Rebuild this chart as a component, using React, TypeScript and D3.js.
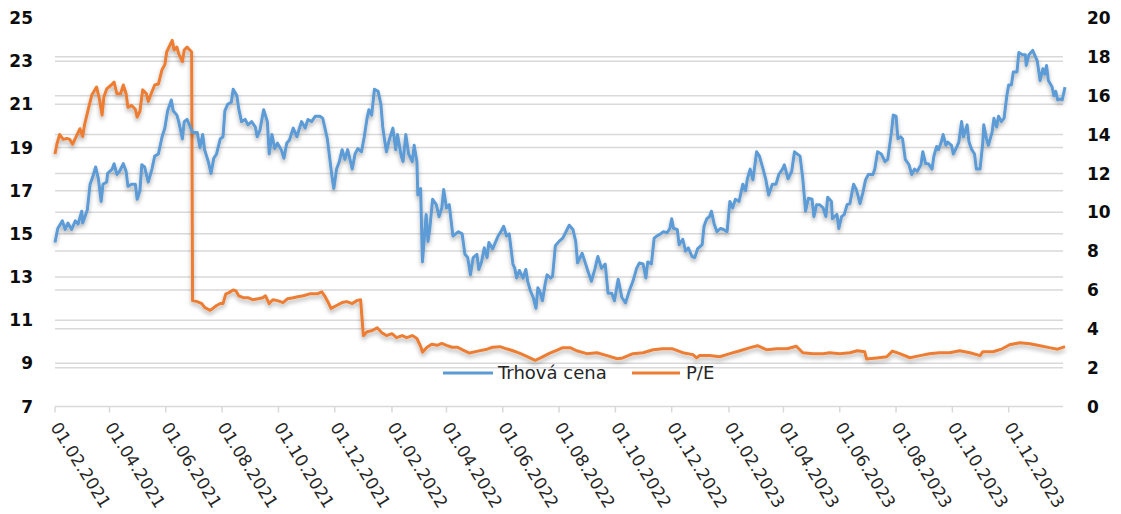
import React from "react";
import * as d3 from "d3";

// days since 01.02.2021, value
const startDate = new Date(2021, 1, 1);

const priceData: [number, number][] = [
  [0,14.6],[3,15.25],[8,15.6],[11,15.2],[14,15.5],[18,15.2],[22,15.6],[25,15.45],[29,16.05],[30,15.5],
  [35,16.1],[38,17.3],[41,17.65],[44,18.1],[47,17.55],[50,16.5],[52,17.3],[56,17.4],[57,17.8],[62,18.0],
  [64,18.25],[67,17.75],[70,17.9],[74,18.25],[77,17.9],[79,17.2],[83,17.3],[87,17.3],[89,16.6],[92,17.0],
  [94,18.2],[97,18.1],[101,17.4],[105,18.0],[108,18.6],[112,18.7],[116,19.5],[119,19.9],[122,20.7],[126,21.2],
  [128,20.7],[132,20.5],[134,20.2],[138,19.4],[140,20.2],[143,20.3],[145,20.1],[149,19.7],[154,19.7],[157,19.0],
  [160,19.6],[162,18.9],[166,18.35],[169,17.8],[172,18.5],[175,18.7],[179,19.4],[182,19.5],[184,20.7],[187,21.0],
  [191,21.1],[193,21.7],[197,21.4],[199,20.8],[202,20.2],[206,20.3],[209,20.05],[213,20.2],[217,19.95],[219,19.5],
  [222,19.8],[226,20.75],[230,20.2],[232,18.7],[235,19.6],[238,18.95],[241,19.2],[245,18.9],[248,18.5],[251,19.2],
  [254,19.35],[258,19.9],[262,19.5],[267,20.2],[271,19.9],[274,20.3],[278,20.2],[282,20.45],[287,20.45],[290,20.35],
  [295,19.4],[297,18.7],[300,17.65],[302,17.1],[305,18.0],[308,18.35],[311,18.9],[314,18.45],[317,18.9],[322,18.0],
  [325,18.7],[328,18.95],[332,18.8],[335,19.5],[338,20.35],[340,20.75],[343,20.5],[346,21.7],[350,21.6],[353,21.0],
  [355,19.95],[357,19.35],[359,18.8],[362,19.35],[366,19.9],[369,18.9],[371,19.6],[375,18.6],[377,18.35],[380,19.6],
  [383,18.7],[387,18.35],[389,19.1],[392,18.35],[393,16.8],[396,17.1],[398,13.7],[402,15.9],[404,14.65],[406,15.25],
  [409,16.6],[413,16.35],[416,15.8],[419,16.2],[421,17.05],[424,16.2],[427,16.35],[431,14.9],[434,15.0],[437,15.1],
  [441,15.0],[444,14.05],[447,13.9],[450,13.1],[453,13.9],[457,14.05],[459,13.35],[462,13.7],[465,14.35],[468,13.9],
  [470,14.6],[474,14.3],[476,14.5],[480,14.9],[483,15.1],[486,15.35],[489,14.9],[492,15.0],[496,13.6],[498,13.4],
  [500,12.95],[503,13.3],[507,12.95],[510,13.35],[512,12.8],[515,12.35],[518,12.05],[521,11.55],[523,12.5],[525,12.35],
  [528,11.9],[531,12.7],[533,13.1],[537,12.95],[539,13.05],[542,14.45],[546,14.65],[550,14.8],[553,15.05],[557,15.4],
  [561,15.2],[564,14.65],[566,13.65],[571,14.1],[574,13.7],[577,13.3],[581,12.8],[585,13.4],[588,13.95],[592,13.4],
  [596,13.6],[599,12.25],[603,12.25],[606,11.9],[610,12.9],[614,12.05],[618,11.8],[622,12.35],[626,12.8],[630,13.4],
  [633,13.65],[637,13.6],[640,12.95],[642,13.7],[646,13.6],[649,14.8],[652,14.9],[656,15.0],[659,15.1],[663,15.05],
  [666,15.25],[668,15.7],[670,15.25],[674,15.2],[676,14.5],[680,14.75],[683,14.2],[686,14.35],[690,13.95],[693,13.9],
  [696,14.3],[701,14.5],[703,15.35],[706,15.7],[709,15.8],[711,16.05],[714,15.45],[717,15.1],[721,15.25],[724,15.2],
  [728,15.1],[731,16.5],[734,16.2],[737,16.6],[741,16.5],[745,17.3],[748,17.0],[750,17.55],[753,18.0],[756,17.5],
  [760,18.8],[763,18.6],[767,18.0],[770,17.5],[773,16.8],[777,17.3],[781,17.3],[784,17.75],[788,18.0],[790,18.2],
  [794,17.55],[798,17.9],[801,18.8],[807,18.6],[810,17.55],[813,16.05],[816,16.65],[820,16.6],[822,15.8],[825,16.35],
  [828,16.35],[832,16.2],[835,15.8],[837,16.7],[841,16.5],[842,15.7],[847,15.9],[849,15.25],[852,15.8],[855,15.9],
  [858,16.35],[861,16.4],[865,17.3],[868,17.05],[872,16.4],[875,16.9],[878,17.5],[881,17.75],[886,17.75],[888,18.0],
  [891,18.8],[895,18.7],[899,18.35],[902,18.45],[906,19.7],[908,20.5],[911,20.45],[913,19.4],[916,19.5],[918,19.4],
  [921,18.45],[925,18.2],[928,17.75],[931,18.0],[934,17.9],[938,18.2],[940,18.8],[943,18.25],[946,18.25],[950,18.0],
  [952,18.6],[955,19.05],[957,18.9],[960,19.25],[962,19.6],[965,19.1],[967,19.25],[971,19.1],[973,18.7],[977,19.05],
  [979,19.25],[982,20.2],[984,19.5],[988,20.05],[990,19.25],[993,18.9],[996,18.7],[998,18.0],[1002,18.0],[1005,19.25],
  [1006,20.05],[1009,19.4],[1011,19.1],[1015,19.7],[1017,20.35],[1020,19.95],[1022,20.45],[1025,20.2],[1028,20.35],[1031,21.4],
  [1033,21.9],[1036,21.9],[1038,22.5],[1042,22.5],[1044,23.4],[1048,23.3],[1051,23.3],[1052,22.8],[1055,23.3],[1059,23.5],
  [1062,23.2],[1064,23.0],[1067,22.1],[1070,22.65],[1072,22.4],[1074,22.8],[1076,22.1],[1080,21.8],[1082,21.4],[1084,21.6],
  [1086,21.2],[1089,21.25],[1091,21.2],[1094,21.8],
];

const peData: [number, number][] = [
  [0,13.0],[2,13.5],[5,14.0],[9,13.75],[13,13.8],[16,13.75],[19,13.5],[24,14.0],[27,14.3],[30,13.9],
  [32,14.5],[36,15.3],[40,16.05],[42,16.2],[45,16.45],[48,15.85],[51,15.0],[53,15.95],[56,16.35],[61,16.55],
  [64,16.7],[67,16.1],[71,16.1],[74,16.55],[77,16.1],[79,15.4],[83,15.5],[87,15.3],[89,14.9],[92,15.2],
  [95,16.3],[99,16.1],[101,15.7],[105,16.2],[108,16.55],[112,16.6],[116,17.35],[119,17.6],[121,18.25],[125,18.65],
  [127,18.85],[129,18.35],[132,18.5],[134,18.15],[138,17.75],[140,18.35],[143,18.5],[145,18.4],[148,18.25],[149,5.45],
  [154,5.4],[159,5.3],[162,5.1],[168,4.95],[171,5.05],[175,5.2],[179,5.3],[182,5.3],[185,5.8],[188,5.85],
  [193,6.0],[196,5.95],[199,5.7],[204,5.6],[209,5.6],[214,5.5],[220,5.55],[225,5.6],[228,5.7],[232,5.3],
  [236,5.5],[241,5.45],[247,5.35],[252,5.55],[258,5.6],[263,5.65],[269,5.7],[276,5.8],[284,5.8],[289,5.9],
  [292,5.7],[296,5.35],[299,5.05],[305,5.2],[311,5.35],[316,5.4],[322,5.3],[327,5.45],[331,5.5],[334,3.65],
  [338,3.85],[343,3.9],[349,4.05],[354,3.8],[359,3.65],[365,3.75],[370,3.55],[376,3.65],[381,3.55],[387,3.65],
  [392,3.5],[396,3.1],[398,2.8],[403,3.05],[408,3.2],[414,3.15],[419,3.25],[424,3.15],[430,3.05],[436,3.05],
  [442,2.9],[449,2.75],[458,2.85],[468,2.95],[474,3.05],[482,3.08],[489,2.97],[496,2.87],[503,2.75],[511,2.58],
  [520,2.38],[526,2.5],[536,2.75],[544,2.9],[550,3.03],[558,3.03],[565,2.87],[576,2.72],[587,2.77],[598,2.62],
  [609,2.46],[615,2.5],[626,2.72],[637,2.77],[648,2.92],[658,2.97],[669,2.97],[680,2.77],[691,2.67],[695,2.5],
  [698,2.62],[709,2.62],[720,2.56],[731,2.72],[742,2.87],[753,3.03],[761,3.13],[771,2.92],[782,2.97],[793,2.97],
  [803,3.1],[810,2.77],[821,2.72],[832,2.72],[839,2.77],[850,2.72],[861,2.77],[869,2.87],[877,2.82],[879,2.45],
  [890,2.5],[901,2.56],[907,2.85],[915,2.72],[926,2.51],[937,2.62],[947,2.72],[958,2.77],[969,2.77],[980,2.87],
  [991,2.77],[1002,2.62],[1005,2.82],[1016,2.82],[1026,2.97],[1034,3.18],[1045,3.28],[1056,3.23],[1067,3.13],[1077,3.03],
  [1086,2.95],[1094,3.08],
];

const seriesNames = ["Trhová cena", "P/E"];
const leftTicks = [7, 9, 11, 13, 15, 17, 19, 21, 23, 25];
const rightTicks = [0, 2, 4, 6, 8, 10, 12, 14, 16, 18, 20];
const xTickLabels = [
  "01.02.2021", "01.04.2021", "01.06.2021", "01.08.2021", "01.10.2021", "01.12.2021",
  "01.02.2022", "01.04.2022", "01.06.2022", "01.08.2022", "01.10.2022", "01.12.2022",
  "01.02.2023", "01.04.2023", "01.06.2023", "01.08.2023", "01.10.2023", "01.12.2023",
];

const W = 1121, H = 514;
const left = 55, right = 1065, top = 18, bottom = 406.5;
const blue = "#5B9BD5", orange = "#ED7D31", grid = "#d9d9d9";
const font = "'DejaVu Sans', Verdana, sans-serif";

export default function App() {
  const toDate = (d: number) => d3.timeDay.offset(startDate, d);
  const parse = d3.timeParse("%d.%m.%Y");
  const lastDay = priceData[priceData.length - 1][0];

  const x = d3.scaleTime().domain([startDate, toDate(lastDay)]).range([left, right]);
  const yL = d3.scaleLinear().domain([7, 25]).range([bottom, top]);
  const yR = d3.scaleLinear().domain([0, 20]).range([bottom, top]);

  const priceLine = d3.line<[number, number]>()
    .x((d) => x(toDate(d[0])))
    .y((d) => yL(d[1]));
  const peLine = d3.line<[number, number]>()
    .x((d) => x(toDate(d[0])))
    .y((d) => yR(d[1]));

  const gridEnd = right - 2;

  return (
    <svg width={W} height={H} style={{ position: "absolute", left: 0, top: 0, background: "#fff" }}
      fontFamily={font}>
      <defs>
        <filter id="shadow" x="-5%" y="-10%" width="110%" height="130%">
          <feDropShadow dx="0" dy="3" stdDeviation="2" floodColor="#000" floodOpacity="0.3" />
        </filter>
      </defs>

      {/* gridlines for both axes */}
      {leftTicks.slice(1, -1).map((t) => (
        <line key={"gl" + t} x1={left} x2={gridEnd} y1={yL(t)} y2={yL(t)} stroke={grid} strokeWidth={1.5} />
      ))}
      {rightTicks.slice(1, -1).map((t) => (
        <line key={"gr" + t} x1={left} x2={gridEnd} y1={yR(t)} y2={yR(t)} stroke={grid} strokeWidth={1.5} />
      ))}

      {/* x axis */}
      <line x1={left} x2={gridEnd} y1={bottom} y2={bottom} stroke={grid} strokeWidth={1.5} />
      {xTickLabels.map((lbl) => {
        const tx = x(parse(lbl) as Date);
        return (
          <g key={lbl}>
            <line x1={tx} x2={tx} y1={bottom} y2={bottom + 6} stroke={grid} strokeWidth={1.5} />
            <text transform={`translate(${tx - 5},${427}) rotate(58)`} fontSize={17} fill="#262626">
              {lbl}
            </text>
          </g>
        );
      })}

      {/* y axes */}
      {leftTicks.map((t) => (
        <text key={"l" + t} x={33} y={yL(t)} dy="0.36em" textAnchor="end" fontSize={17}
          fontWeight="bold" fill="#0d0d0d">{t}</text>
      ))}
      {rightTicks.map((t) => (
        <text key={"r" + t} x={1087} y={yR(t)} dy="0.36em" textAnchor="start" fontSize={17}
          fontWeight="bold" fill="#0d0d0d">{t}</text>
      ))}

      {/* series */}
      <path d={peLine(peData) ?? ""} fill="none" stroke={orange} strokeWidth={3}
        strokeLinejoin="round" filter="url(#shadow)" />
      <path d={priceLine(priceData) ?? ""} fill="none" stroke={blue} strokeWidth={3}
        strokeLinejoin="round" filter="url(#shadow)" />

      {/* legend */}
      <g fontSize={18} fill="#262626">
        <line x1={443} x2={493} y1={373} y2={373} stroke={blue} strokeWidth={3} />
        <text x={498} y={373} dy="0.36em">{seriesNames[0]}</text>
        <line x1={632} x2={680} y1={373} y2={373} stroke={orange} strokeWidth={3} />
        <text x={686} y={373} dy="0.36em">{seriesNames[1]}</text>
      </g>
    </svg>
  );
}
